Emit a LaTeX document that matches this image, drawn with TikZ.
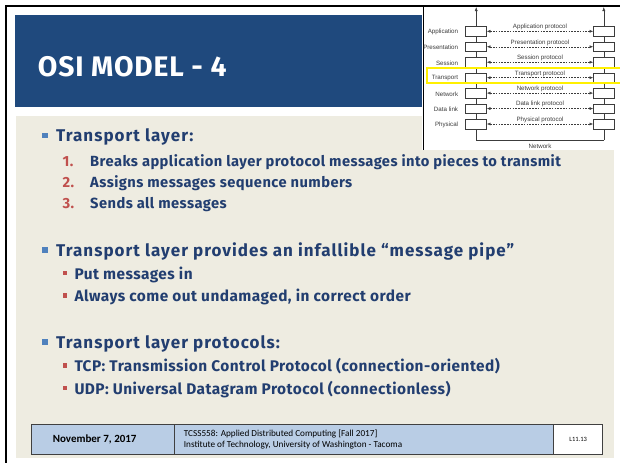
\documentclass[tikz,border=0pt]{standalone}
\usepackage{fontspec}
\setmainfont{Fira Sans}
\newfontfamily\bodyfont[LetterSpace=3]{Fira Sans}
\newfontfamily\headfont[LetterSpace=6]{Fira Sans}
\newfontfamily\insetfont{Liberation Sans}
\newfontfamily\footfont{Carlito}
\usetikzlibrary{arrows.meta}
\definecolor{titleblue}{RGB}{31,73,125}
\definecolor{beige}{RGB}{238,236,225}
\definecolor{textblue}{RGB}{34,62,112}
\definecolor{numred}{RGB}{192,80,77}
\definecolor{bulletblue}{RGB}{79,129,189}
\definecolor{footblue}{RGB}{185,205,229}
\definecolor{insetgray}{RGB}{60,60,60}
\tikzset{
  txt/.style={inner sep=0pt, anchor=base west, text=textblue},
  headtxt/.style={txt, font=\headfont\bfseries\fontsize{17}{20}\selectfont},
  itemtxt/.style={txt, font=\bodyfont\bfseries\fontsize{14.7}{18}\selectfont},
  subtxt/.style={txt, font=\bodyfont\bfseries\fontsize{15.4}{18}\selectfont},
  numtxt/.style={itemtxt, text=numred},
  hbullet/.style={fill=bulletblue, draw=none, minimum size=5.4pt, inner sep=0pt},
  sbullet/.style={fill=numred, draw=none, minimum size=4.4pt, inner sep=0pt},
  layerbox/.style={draw=insetgray, fill=white, line width=0.5pt, minimum width=21pt, minimum height=9.5pt, inner sep=0pt},
  layerlbl/.style={inner sep=0pt, anchor=east, text=insetgray, font=\insetfont\fontsize{6.2}{7}\selectfont},
  protlbl/.style={inner sep=0pt, anchor=base, text=insetgray, font=\insetfont\fontsize{6.2}{7}\selectfont},
  protarrow/.style={draw=insetgray, line width=0.4pt, dash pattern=on 1.6pt off 1.2pt, {Latex[length=3.5pt,width=3pt]}-{Latex[length=3.5pt,width=3pt]}},
  stack/.style={draw=insetgray, line width=0.5pt},
  footbox/.style={draw=black!75, line width=0.6pt, inner sep=0pt, minimum height=30pt},
}
\begin{document}
\begin{tikzpicture}[x=1pt,y=-1pt]
\useasboundingbox (0,0) rectangle (620,463);
% frame
\fill[white] (0,0) rectangle (620,463);
\fill[black] (5,5) rectangle (620,7);
\fill[black] (5,5) rectangle (7,463);
% title bar
\fill[titleblue] (15,15) rectangle (620,106.7);
\node[inner sep=0pt, anchor=base west, text=white, font=\bodyfont\bfseries\fontsize{28.3}{30}\selectfont] (title) at (37.7,76) {OSI MODEL - 4};
% content background
\fill[beige] (16,116) rectangle (614,457.7);

% text content
\node[hbullet] (b1) at (45,135.5) {};
\node[headtxt] (h1) at (56,141.7) {Transport layer:};
\node[numtxt] (n1) at (62.3,166.7) {1.};
\node[itemtxt] (i1) at (90,166.7) {Breaks application layer protocol messages into pieces to transmit};
\node[numtxt] (n2) at (62.3,187.7) {2.};
\node[itemtxt] (i2) at (90,187.7) {Assigns messages sequence numbers};
\node[numtxt] (n3) at (62.3,208.3) {3.};
\node[itemtxt] (i3) at (90,208.3) {Sends all messages};

\node[hbullet] (b2) at (45,249.8) {};
\node[headtxt] (h2) at (56,256) {Transport layer provides an infallible “message pipe”};
\node[sbullet] (s1) at (65,273) {};
\node[subtxt] (t1) at (74.3,279.3) {Put messages in};
\node[sbullet] (s2) at (65,295.4) {};
\node[subtxt] (t2) at (74.3,301.7) {Always come out undamaged, in correct order};

\node[hbullet] (b3) at (45,342.1) {};
\node[headtxt] (h3) at (56,348.3) {Transport layer protocols:};
\node[sbullet] (s3) at (65,365.4) {};
\node[subtxt] (t3) at (74.3,371.7) {TCP: Transmission Control Protocol (connection-oriented)};
\node[sbullet] (s4) at (65,388) {};
\node[subtxt] (t4) at (74.3,394.3) {UDP: Universal Datagram Protocol (connectionless)};

% inset OSI picture
\fill[white] (422,7) rectangle (620,149.5);
\draw[black, line width=1pt] (423,7) -- (423,149.5);
\coordinate (lt) at (476.2,7);
\coordinate (lb) at (476.2,140);
\coordinate (rt) at (603.8,7);
\coordinate (rb) at (603.8,140);
\draw[stack, -{Latex[length=4pt,width=3pt]}] (lb) -- (lt);
\draw[stack, -{Latex[length=4pt,width=3pt]}] (rb) -- (rt);
\draw[stack] (lb) -- (rb);
\foreach \i/\lay/\prot in {0/Application/Application protocol,1/Presentation/Presentation protocol,2/Session/Session protocol,3/Transport/Transport protocol,4/Network/Network protocol,5/Data link/Data link protocol,6/Physical/Physical protocol}{
  \pgfmathsetmacro{\yy}{31.3+15.45*\i}
  \node[layerbox] (L\i) at (476.2,\yy) {};
  \node[layerbox] (R\i) at (603.8,\yy) {};
  \node[layerlbl] (N\i) at (458.3,\yy+0.8) {\lay};
  \draw[protarrow] (L\i.east) -- (R\i.west);
  \node[protlbl] (P\i) at (540,\yy-2.6) {\prot};
}
\node[protlbl] (net) at (540,148) {Network};
\draw[draw={rgb,255:red,255;green,240;blue,0}, line width=2pt] (426.7,68.3) rectangle (630,82.7);

% footer
\node[footbox, fill=footblue, minimum width=143.6pt, anchor=north west] (date) at (30.7,424.3) {};
\node[inner sep=0pt, font=\footfont\bfseries\fontsize{11}{13}\selectfont] (datetxt) at (94.7,439.3) {November 7, 2017};
\node[footbox, fill=footblue, minimum width=379pt, anchor=north west] (course) at (174.3,424.3) {};
\node[inner sep=0pt, anchor=west, align=left, font=\footfont\fontsize{9.2}{10.8}\selectfont] (coursetxt) at (183.7,439.3) {TCSS558: Applied Distributed Computing [Fall 2017]\\Institute of Technology, University of Washington - Tacoma};
\node[footbox, fill=white, minimum width=49pt, anchor=north west, font=\footfont\fontsize{6.5}{8}\selectfont] (slide) at (553.3,424.3) {L11.13};
\end{tikzpicture}
\end{document}
